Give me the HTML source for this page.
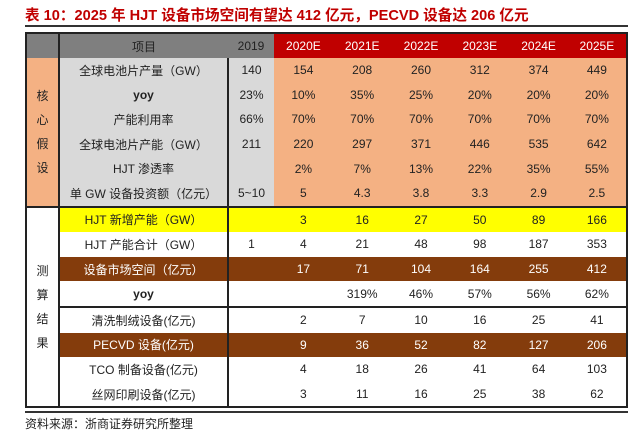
<!DOCTYPE html>
<html><head><meta charset="utf-8"><style>
body{margin:0;background:#fff;width:640px;height:441px;overflow:hidden;position:relative;font-family:"Liberation Sans","Noto Sans CJK SC",sans-serif;}
.t{position:absolute;left:25px;top:4px;font-size:14.6px;font-weight:bold;color:#c00000;white-space:nowrap;}
.hl{position:absolute;left:25px;width:603px;background:#333;}
table{position:absolute;left:25px;top:32px;border-collapse:collapse;table-layout:fixed;width:601px;}
td{height:24.6px;padding:0;text-align:center;font-size:12px;color:#222;}
tr.h td{height:24px;background:#7f7f7f;color:#222;}
tr.h td.y{background:#c00000;color:#fff;}
.g{background:#d9d9d9;}
.p{background:#f4b183;}
.yl td{background:#ffff00;}
.br td{background:#843c0c;color:#fff;}
.l{background:#f4b183;border-right:2px solid #222;}
.w{background:#fff;border-right:2px solid #222;}
.it{border-right:2px solid #222;}
.tb{border-top:2px solid #222;}
.lb{font-size:12px;line-height:24px;}
.s{position:absolute;left:25px;top:415px;font-size:12px;color:#222;}
</style></head><body>
<div class="t">表 10：2025 年 HJT 设备市场空间有望达 412 亿元，PECVD 设备达 206 亿元</div>
<div class="hl" style="top:25px;height:2px"></div>
<table style="border:2px solid #222;">
<colgroup><col style="width:33px"><col style="width:169px"><col style="width:46px"><col span="6" style="width:58.8px"></colgroup>
<tr class="h"><td style="border-right:2px solid #222"></td><td>项目</td><td>2019</td><td class="y">2020E</td><td class="y">2021E</td><td class="y">2022E</td><td class="y">2023E</td><td class="y">2024E</td><td class="y">2025E</td></tr>
<tr><td class="l lb" rowspan="6">核<br>心<br>假<br>设</td><td class="g it">全球电池片产量（GW）</td><td class="g">140</td><td class="p">154</td><td class="p">208</td><td class="p">260</td><td class="p">312</td><td class="p">374</td><td class="p">449</td></tr>
<tr><td class="g it"><b>yoy</b></td><td class="g">23%</td><td class="p">10%</td><td class="p">35%</td><td class="p">25%</td><td class="p">20%</td><td class="p">20%</td><td class="p">20%</td></tr>
<tr><td class="g it">产能利用率</td><td class="g">66%</td><td class="p">70%</td><td class="p">70%</td><td class="p">70%</td><td class="p">70%</td><td class="p">70%</td><td class="p">70%</td></tr>
<tr><td class="g it">全球电池片产能（GW）</td><td class="g">211</td><td class="p">220</td><td class="p">297</td><td class="p">371</td><td class="p">446</td><td class="p">535</td><td class="p">642</td></tr>
<tr><td class="g it">HJT 渗透率</td><td class="g"></td><td class="p">2%</td><td class="p">7%</td><td class="p">13%</td><td class="p">22%</td><td class="p">35%</td><td class="p">55%</td></tr>
<tr><td class="g it">单 GW 设备投资额（亿元）</td><td class="g">5~10</td><td class="p">5</td><td class="p">4.3</td><td class="p">3.8</td><td class="p">3.3</td><td class="p">2.9</td><td class="p">2.5</td></tr>
<tr class="yl"><td class="w lb" rowspan="8" style="background:#fff;border-top:2px solid #222">测<br>算<br>结<br>果</td><td class="it tb">HJT 新增产能（GW）</td><td class="tb"></td><td class="tb">3</td><td class="tb">16</td><td class="tb">27</td><td class="tb">50</td><td class="tb">89</td><td class="tb">166</td></tr>
<tr><td class="it">HJT 产能合计（GW）</td><td>1</td><td>4</td><td>21</td><td>48</td><td>98</td><td>187</td><td>353</td></tr>
<tr class="br"><td class="it">设备市场空间（亿元）</td><td></td><td>17</td><td>71</td><td>104</td><td>164</td><td>255</td><td>412</td></tr>
<tr><td class="it"><b>yoy</b></td><td></td><td></td><td>319%</td><td>46%</td><td>57%</td><td>56%</td><td>62%</td></tr>
<tr><td class="it tb">清洗制绒设备(亿元)</td><td class="tb"></td><td class="tb">2</td><td class="tb">7</td><td class="tb">10</td><td class="tb">16</td><td class="tb">25</td><td class="tb">41</td></tr>
<tr class="br"><td class="it">PECVD 设备(亿元)</td><td></td><td>9</td><td>36</td><td>52</td><td>82</td><td>127</td><td>206</td></tr>
<tr><td class="it">TCO 制备设备(亿元)</td><td></td><td>4</td><td>18</td><td>26</td><td>41</td><td>64</td><td>103</td></tr>
<tr><td class="it">丝网印刷设备(亿元)</td><td></td><td>3</td><td>11</td><td>16</td><td>25</td><td>38</td><td>62</td></tr>
</table>
<div class="hl" style="top:411px;height:2px"></div>
<div class="s">资料来源：浙商证券研究所整理</div>
</body></html>
